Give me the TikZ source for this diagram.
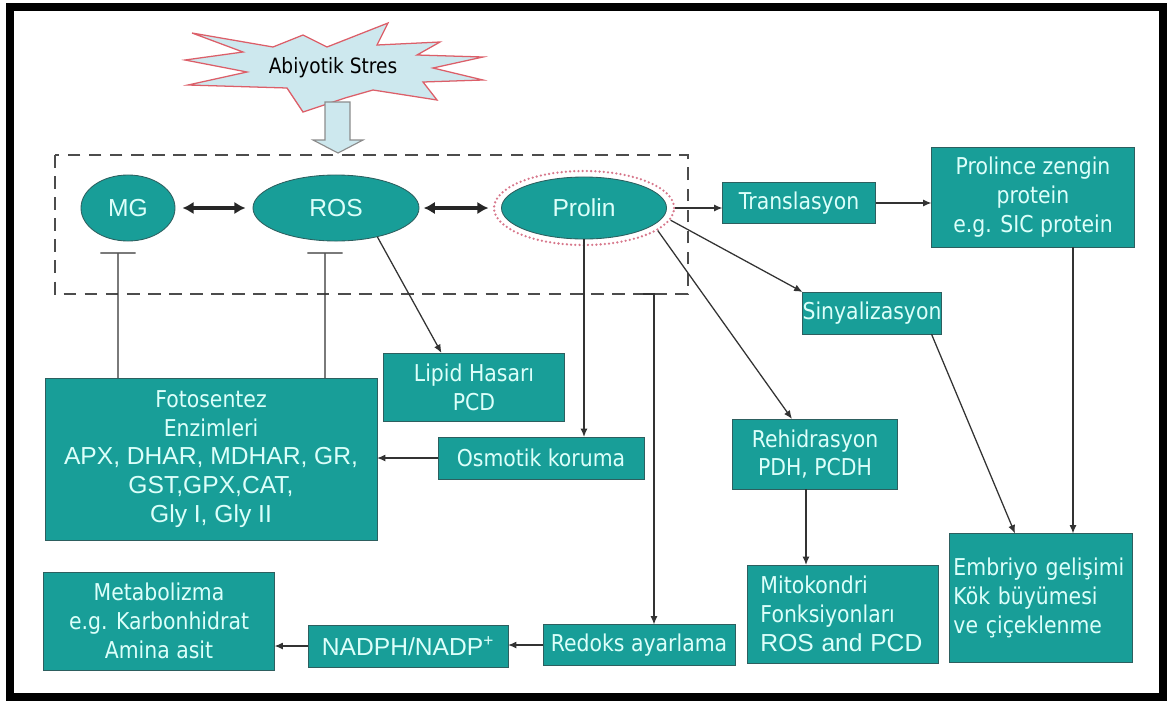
\documentclass[tikz,border=0pt]{standalone}
\usepackage{fontspec}
\setmainfont{Liberation Sans}
\newfontfamily\tah[FakeStretch=0.88]{DejaVu Sans}
\usetikzlibrary{shapes.geometric,arrows.meta,calc}
\definecolor{tealbox}{RGB}{24,158,152}
\definecolor{tealline}{RGB}{45,95,95}
\definecolor{boxtext}{RGB}{220,255,250}
\definecolor{starfill}{RGB}{205,232,238}
\definecolor{starline}{RGB}{220,95,105}
\definecolor{haloline}{RGB}{215,120,140}
\newcommand\boxfont{\tah\fontsize{16.5}{20.5}\selectfont}
\newcommand\arfont{\normalfont\fontsize{17.5}{21}\selectfont}

\begin{document}
\begin{tikzpicture}[x=0.025cm,y=-0.025cm,
  box/.style={draw=tealline,line width=0.6pt,fill=tealbox,text=boxtext,inner sep=0pt,outer sep=0pt,align=center,font=\boxfont},
  oval/.style={ellipse,draw=tealline,line width=0.6pt,fill=tealbox,text=boxtext,inner sep=0pt,font=\arfont},
  conn/.style={-{Latex[length=6pt,width=5pt]},line width=0.9pt,black!80},
  inhib/.style={-{Bar[width=25pt,line width=0.9pt]},line width=0.9pt,black!80},
  twoway/.style={{Latex[length=8pt,width=9pt]}-{Latex[length=8pt,width=9pt]},line width=2.2pt,black!85}]
                \useasboundingbox (0,0) rectangle (1174,705);
                \draw[line width=5.5pt] (10,7) rectangle (1163,697);
                % stress burst and the big arrow
                \draw[starline,fill=starfill,line width=0.9pt] (192,33) -- (273,47) -- (303,35) -- (327,47) -- (388,23) -- (377,45) -- (440,42) -- (417,55) -- (483,57) -- (433,68) -- (483,80) -- (423,82) -- (437,100) -- (373,90) -- (345,98) -- (303,112) -- (287,88) -- (188,85) -- (247,72) -- (185,60) -- (243,52) -- cycle;
                \node[font=\tah\fontsize{15}{18}\selectfont,text=black] (stres) at (333,68) {Abiyotik Stres};
                \draw[black!45,fill=starfill,line width=0.8pt] (325,102) -- (350,102) -- (350,140) -- (363,140) -- (338,153) -- (313,140) -- (325,140) -- cycle;
                \draw[dash pattern=on 9pt off 6pt,line width=1.1pt,black!70] (55,155) rectangle (688,294);
                % ovals
                \node[oval,minimum width=2.35cm,minimum height=1.65cm] (mg) at (128,208) {MG};
                \node[oval,minimum width=4.15cm,minimum height=1.65cm] (ros) at (336,208) {ROS};
                \node[ellipse,draw=haloline,dash pattern=on 0pt off 3pt,line cap=round,line width=1.8pt,minimum width=4.5cm,minimum height=1.85cm] (halo) at (584,208) {};
                \node[oval,minimum width=4.125cm,minimum height=1.55cm] (prolin) at (584,208) {Prolin};
                % boxes
                \node[box,minimum width=3.825cm,minimum height=1.025cm] (trans) at (799,203) {Translasyon};
                \node[box,minimum width=5.075cm,minimum height=2.5cm] (prolz) at (1033,197) {Prolince zengin\\protein\\e.g. SIC protein};
                \node[box,minimum width=3.375cm,minimum height=1.05cm] (siny) at (872,313) {Sinyalizasyon};
                \node[box,minimum width=4.525cm,minimum height=1.7cm] (lipid) at (474,387) {Lipid Hasarı\\PCD};
                \node[box,minimum width=8.3cm,minimum height=4.05cm] (foto) at (211,459) {Fotosentez\\Enzimleri\\\arfont APX, DHAR, MDHAR, GR,\\\arfont GST,GPX,CAT,\\\arfont Gly I, Gly II};
                \node[box,minimum width=5.15cm,minimum height=1.05cm] (osmo) at (541,458) {Osmotik koruma};
                \node[box,minimum width=4.125cm,minimum height=1.75cm] (rehid) at (815,454) {Rehidrasyon\\PDH, PCDH};
                \node[box,align=left,text width=4.125cm,inner xsep=0.325cm,minimum height=2.45cm] (mito) at (843,614) {Mitokondri\\Fonksiyonları\\\arfont ROS and PCD};
                \node[box,align=left,text width=4.375cm,inner xsep=0.1cm,minimum height=3.225cm] (embr) at (1041,598) {Embriyo gelişimi\\Kök büyümesi\\ve çiçeklenme};
                \node[box,minimum width=5.775cm,minimum height=2.45cm] (metab) at (159,621) {Metabolizma\\e.g. Karbonhidrat\\Amina asit};
                \node[box,minimum width=5cm,minimum height=1.05cm,font=\arfont] (nadph) at (408,646) {NADPH/NADP\textsuperscript{+}};
                \node[box,minimum width=4.8cm,minimum height=1.025cm] (redoks) at (639,645) {Redoks ayarlama};
                % links
                \draw[twoway,shorten <=5pt,shorten >=5pt] (mg) -- (ros);
                \draw[twoway,shorten <=3pt,shorten >=3pt] (ros) -- (halo);
                \draw[inhib] ($(foto.north west)+(73,0)$) -- ($(mg.south)+(-10,11)$);
                \draw[inhib] ($(foto.north west)+(280,0)$) -- ($(ros.south)+(-11,11)$);
                \draw[conn] (ros.-35) -- ($(lipid.north west)+(58,0)$);
                \draw[conn] (prolin.south) -- (prolin.south |- osmo.north);
                \draw[conn] (osmo.west) -- (osmo.west -| foto.east);
                \draw[conn] (halo.east) -- (halo.east -| trans.west);
                \draw[conn] (trans.east) -- (trans.east -| prolz.west);
                \draw[conn] (halo.-8) -- (siny.north west);
                \draw[conn] (halo.-17) -- ($(rehid.north)+(-23,0)$);
                \draw[conn] ($(siny.south east)+(-10,0)$) -- ($(embr.north)+(-26,0)$);
                \draw[conn] ($(prolz.south)+(40,0)$) -- ($(embr.north)+(32,0)$);
                \draw[conn] ($(rehid.south)+(-9,0)$) -- ($(mito.north)+(-37,0)$);
                \coordinate (rdstart) at (643,294);
                \coordinate (rdturn) at (654,294);
                \draw[conn] (rdstart) -- (rdturn) -- (rdturn |- redoks.north);
                \draw[conn] (redoks.west) -- (redoks.west -| nadph.east);
                \draw[conn] (nadph.west) -- (nadph.west -| metab.east);
\end{tikzpicture}
\end{document}
